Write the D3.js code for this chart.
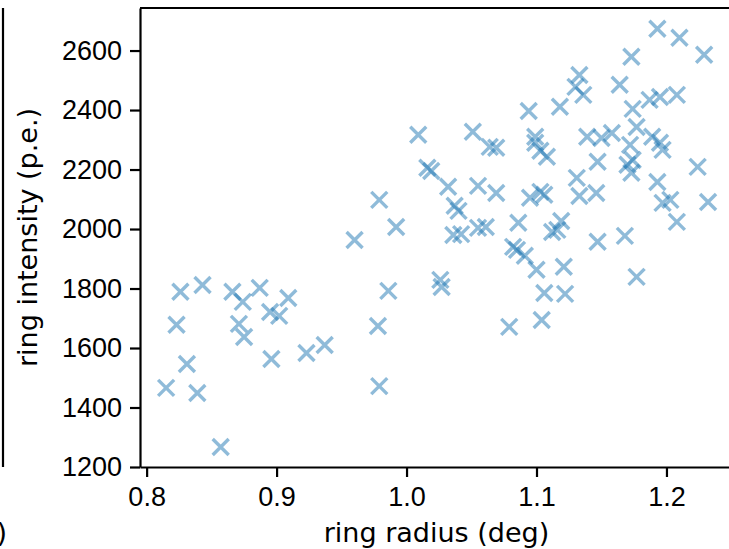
<!DOCTYPE html>
<html>
<head>
<meta charset="utf-8">
<script src="https://cdnjs.cloudflare.com/ajax/libs/d3/7.8.5/d3.min.js"></script>
<style>
  body { margin: 0; background: #fff; }
  svg { display: block; }
</style>
</head>
<body>
<div id="canvas-scatter"></div>
<script>
//
// Ring radius vs ring intensity scatter
//

// Data: ring radius (deg) and ring intensity (p.e.)
var radius = [
  0.815, 0.823, 0.826, 0.831, 0.839, 0.843, 0.857, 0.866, 0.874, 0.871,
  0.875, 0.887, 0.895, 0.902, 0.896, 0.909, 0.923, 0.937, 0.960, 0.978,
  0.979, 0.986, 0.979, 0.992, 1.009, 1.016, 1.019, 1.026, 1.027, 1.032,
  1.037, 1.040, 1.036, 1.042, 1.051, 1.055, 1.055, 1.061, 1.064, 1.069,
  1.069, 1.079, 1.082, 1.085, 1.091, 1.086, 1.094, 1.095, 1.099, 1.099,
  1.103, 1.108, 1.103, 1.106, 1.100, 1.106, 1.104, 1.112, 1.116, 1.119,
  1.118, 1.121, 1.122, 1.131, 1.133, 1.133, 1.130, 1.136, 1.139, 1.146,
  1.147, 1.147, 1.150, 1.158, 1.164, 1.168, 1.170, 1.172, 1.174, 1.173,
  1.173, 1.174, 1.177, 1.177, 1.187, 1.189, 1.193, 1.193, 1.195, 1.195,
  1.197, 1.197, 1.203, 1.208, 1.208, 1.210, 1.224, 1.229, 1.232
];
var intensity = [
  1466, 1678, 1789, 1546, 1449, 1812, 1267, 1789, 1755, 1681,
  1637, 1802, 1721, 1708, 1563, 1768, 1583, 1610, 1963, 1674,
  1472, 1792, 2098, 2007, 2317, 2206, 2195, 1829, 1805, 2142,
  2078, 2061, 1980, 1983, 2327, 2145, 2004, 2007, 2276, 2273,
  2121, 1671, 1940, 1930, 1910, 2021, 2397, 2105, 2310, 2290,
  2263, 2243, 2125, 2115, 1863, 1785, 1694, 1990, 1997, 2027,
  2411, 1873, 1782, 2172, 2111, 2518, 2478, 2451, 2310, 2121,
  2226, 1957, 2306, 2323, 2485, 1977, 2216, 2283, 2232, 2189,
  2579, 2404, 2343, 1839, 2434, 2310, 2158, 2673, 2444, 2290,
  2266, 2088, 2098, 2451, 2024, 2643, 2209, 2586, 2091
];

// Tick values and axis limits
var xTicks = [0.8, 0.9, 1.0, 1.1, 1.2];
var yTicks = [1200, 1400, 1600, 1800, 2000, 2200, 2400, 2600];
var xLimits = [0.7949, 1.2512];
var yLimits = [1200, 2743];

var points = radius.map(function(r, i) { return {x: r, y: intensity[i]}; });

// Dimensions of the (partly cut off) plot area
var W = 729, H = 549;
var margin = {top: 8, left: 140, bottom: 467};
var plotRight = 733;
var fontSize = "27px";

var svg = d3.select("#canvas-scatter")
    .append("svg")
    .attr("width", W)
    .attr("height", H)
    .style("font-family", "'DejaVu Sans', sans-serif");

svg.append("rect").attr("width", W).attr("height", H).attr("fill", "#fff");

// Scales
var x = d3.scaleLinear()
    .domain(xLimits)
    .range([margin.left, plotRight]);

var y = d3.scaleLinear()
    .domain(yLimits)
    .range([margin.bottom, margin.top]);

// Markers ('x' shape, tab:blue, half transparent)
var half = 8;
svg.append("g")
    .selectAll("path")
    .data(points)
    .enter()
    .append("path")
    .attr("d", function(d) {
      var cx = x(d.x), cy = y(d.y);
      return "M" + (cx - half) + "," + (cy - half) + "L" + (cx + half) + "," + (cy + half) +
             "M" + (cx - half) + "," + (cy + half) + "L" + (cx + half) + "," + (cy - half);
    })
    .attr("fill", "none")
    .attr("stroke", "#1f77b4")
    .attr("stroke-width", 3.4)
    .attr("opacity", 0.5);

// X axis
var xAxis = svg.append("g")
    .attr("transform", "translate(0," + margin.bottom + ")")
    .call(d3.axisBottom(x).tickValues(xTicks).tickFormat(d3.format(".1f"))
      .tickSize(10).tickSizeOuter(0).tickPadding(10));

// Y axis
var yAxis = svg.append("g")
    .attr("transform", "translate(" + margin.left + ",0)")
    .call(d3.axisLeft(y).tickValues(yTicks).tickFormat(d3.format("d"))
      .tickSize(10).tickSizeOuter(0).tickPadding(8));

[xAxis, yAxis].forEach(function(a) {
  a.selectAll("path, line").attr("stroke", "#000").attr("stroke-width", 2.2);
  a.selectAll("text").attr("fill", "#000").style("font-size", fontSize);
});

// Top spine
svg.append("line")
    .attr("x1", margin.left).attr("x2", plotRight)
    .attr("y1", margin.top).attr("y2", margin.top)
    .attr("stroke", "#000").attr("stroke-width", 2.2);

// Axis labels
svg.append("text")
    .attr("x", (margin.left + plotRight) / 2)
    .attr("y", 542)
    .attr("text-anchor", "middle")
    .style("font-size", fontSize)
    .text("ring radius (deg)");

svg.append("text")
    .attr("transform", "translate(37," + ((margin.top + margin.bottom) / 2) + ") rotate(-90)")
    .attr("text-anchor", "middle")
    .style("font-size", fontSize)
    .text("ring intensity (p.e.)");

// Remnant of the neighbouring subplot on the left: its right spine and label end
svg.append("line")
    .attr("x1", 3).attr("x2", 3)
    .attr("y1", margin.top).attr("y2", margin.bottom)
    .attr("stroke", "#000").attr("stroke-width", 2.2);

svg.append("text")
    .attr("x", 7)
    .attr("y", 542)
    .attr("text-anchor", "end")
    .style("font-size", fontSize)
    .text(")");
</script>
</body>
</html>
